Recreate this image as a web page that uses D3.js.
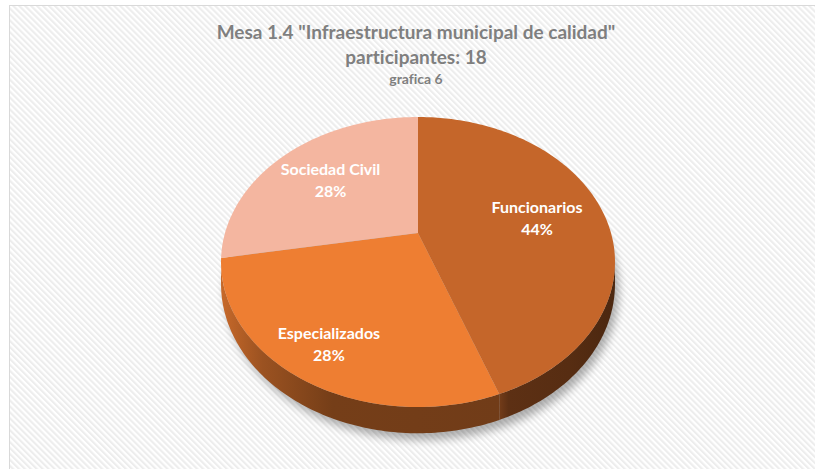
<!DOCTYPE html>
<html><head><meta charset="utf-8">
<script src="https://cdn.jsdelivr.net/npm/d3@7"></script>
<style>html,body{margin:0;padding:0;background:#fff;}svg{display:block;}text{font-variant-ligatures:none;font-feature-settings:"liga" 0,"clig" 0;}</style>
</head><body>
<script>
const titleLines = ['Mesa 1.4 "Infraestructura municipal de calidad"', 'participantes: 18', 'grafica 6'];
const categories = ["Funcionarios", "Especializados", "Sociedad Civil"];
const values = [8, 5, 5];
const colors = ["#C5662A", "#EE7E32", "#F4B6A0"];

const W = 815, H = 469;
const svg = d3.select("body").append("svg").attr("width", W).attr("height", H);
const defs = svg.append("defs");

// striped background
const pat = defs.append("pattern").attr("id", "stripes").attr("patternUnits", "userSpaceOnUse")
  .attr("width", 4.2).attr("height", 4.2).attr("patternTransform", "rotate(-45)");
pat.append("rect").attr("width", 4.2).attr("height", 4.2).attr("fill", "#ffffff");
pat.append("rect").attr("width", 2.1).attr("height", 4.2).attr("fill", "#ededed");
svg.append("rect").attr("x", 9.5).attr("y", 5.5).attr("width", W).attr("height", H)
  .attr("fill", "url(#stripes)").attr("stroke", "#d9d9d9").attr("stroke-width", 1);

// titles
const fontFam = "Lato, 'Open Sans', sans-serif";
const titleG = svg.append("g").attr("fill", "#7f7f7f").attr("font-family", fontFam)
  .attr("font-weight", "bold").attr("text-anchor", "middle");
const tSizes = [19, 19, 14], tY = [39, 64, 84];
titleLines.forEach((t, i) => {
  titleG.append("text").attr("x", 416).attr("y", tY[i]).attr("font-size", tSizes[i]).text(t);
});

// perspective projection of a unit disc
const X0 = 418, Y0 = 233, A = 193, B = 139.2, K = 0.2, DEPTH = 21;
function proj(a, r = 1, drop = 0) {
  const u = r * Math.sin(a), v = -r * Math.cos(a), w = 1 - K * v;
  return [X0 + A * u / w, Y0 + B * v / w + drop / w];
}
function arcPts(a0, a1, drop) {
  const n = Math.max(2, Math.ceil(Math.abs(a1 - a0) / (Math.PI / 180)));
  return d3.range(n + 1).map(i => proj(a0 + (a1 - a0) * i / n, 1, drop));
}
const line = d3.line();

const pie = d3.pie().sort(null).value(d => d)(values);
const total = d3.sum(values);

// shadow
const sh = defs.append("filter").attr("id", "blur").attr("x", "-20%").attr("y", "-20%").attr("width", "140%").attr("height", "140%");
sh.append("feGaussianBlur").attr("stdDeviation", 4);
svg.append("path").attr("d", line(arcPts(0, 2 * Math.PI, DEPTH + 3)) + "Z")
  .attr("transform", "translate(4,3)").attr("fill", "#000").attr("opacity", 0.3).attr("filter", "url(#blur)");

// side walls
const aMin = Math.acos(-K), aMax = 2 * Math.PI - Math.acos(-K);
const wallG = svg.append("g");
pie.forEach((d, i) => {
  const s = Math.max(d.startAngle, aMin), e = Math.min(d.endAngle, aMax);
  if (e <= s) return;
  const top = arcPts(s, e, 0), bot = arcPts(e, s, DEPTH);
  const base = d3.color(colors[i]);
  const gid = "wg" + i;
  const x0 = d3.min(top, p => p[0]), x1 = d3.max(top, p => p[0]);
  const g = defs.append("linearGradient").attr("id", gid).attr("gradientUnits", "userSpaceOnUse")
    .attr("x1", x0).attr("x2", x1).attr("y1", 0).attr("y2", 0);
  const stops = i === 0 ? [[0, 1.5], [0.08, 2.1], [0.6, 2.3], [1, 2.7]]
                        : [[0, 0.5], [0.15, 1.2], [0.4, 2.0], [1, 2.1]];
  stops.forEach(([o, k]) => g.append("stop").attr("offset", o).attr("stop-color", base.darker(k).formatHex()));
  wallG.append("path").attr("d", line(top.concat(bot)) + "Z").attr("fill", `url(#${gid})`);
});

// top faces
const topG = svg.append("g");
const slicePolys = pie.map(d => [[X0, Y0]].concat(arcPts(d.startAngle, d.endAngle, 0)));
slicePolys.forEach((p, i) => {
  topG.append("path").attr("d", line(p) + "Z").attr("fill", colors[i]);
});

// labels: placed along the mid-angle, pushed outward for slices nearer the viewer
const fmt = d3.format(".0%");
const labG = svg.append("g").attr("fill", "#fff").attr("font-family", fontFam).attr("font-weight", "bold")
  .attr("font-size", 16).attr("text-anchor", "middle");
pie.forEach((d, i) => {
  const mid = (d.startAngle + d.endAngle) / 2;
  const r = 0.64 + 0.18 * Math.max(0, -Math.cos(mid));
  const c = proj(mid, r, 0);
  const t = labG.append("text").attr("x", c[0]).attr("y", c[1]);
  t.append("tspan").attr("x", c[0]).attr("dy", -5).text(categories[i]);
  t.append("tspan").attr("x", c[0]).attr("dy", 22).text(fmt(d.value / total));
});
</script>
</body></html>
